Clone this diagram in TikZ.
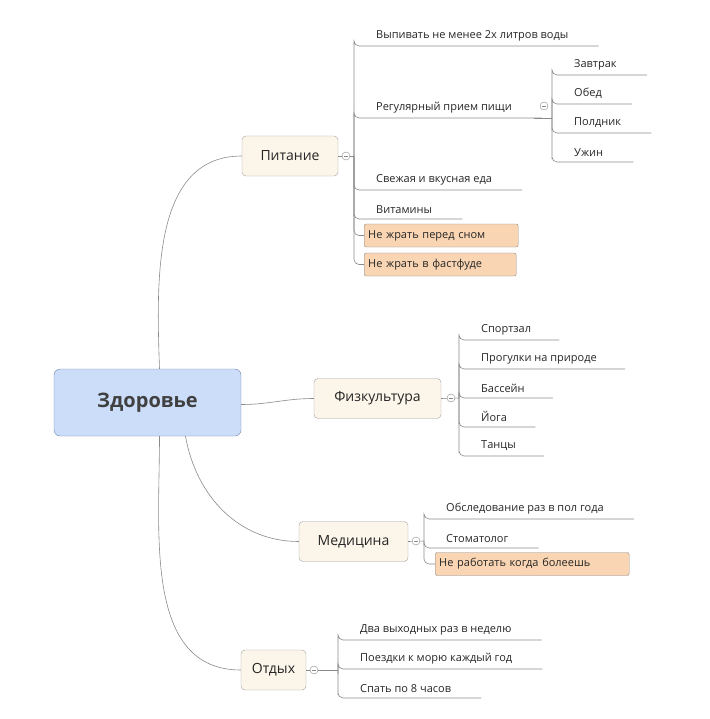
\documentclass[tikz,border=0pt]{standalone}
\usepackage{fontspec}
\setmainfont{Open Sans}
\usetikzlibrary{positioning}

\definecolor{rootfill}{HTML}{CCDDFA}
\definecolor{rootdraw}{HTML}{6E84A8}
\definecolor{topicfill}{HTML}{FCF5EA}
\definecolor{notefill}{HTML}{F9D5B3}
\definecolor{linegray}{HTML}{8A8A8A}

\tikzset{
  root/.style={rectangle, rounded corners=6pt, draw=rootdraw, fill=rootfill,
               minimum width=187pt, minimum height=67pt, font=\fontsize{20}{24}\selectfont\bfseries,
               text=black!75},
  topic/.style={rectangle, rounded corners=4pt, draw=linegray!80, fill=topicfill,
                minimum height=40pt, inner xsep=10pt, font=\fontsize{14}{16}\selectfont, text=black!85},
  leaf/.style={anchor=south west, inner xsep=22pt, inner ysep=5pt,
               font=\fontsize{11}{13}\selectfont, text=black!85},
  note/.style={anchor=west, rectangle, rounded corners=2pt, draw=linegray, fill=notefill,
               minimum height=23pt, inner xsep=4pt, font=\fontsize{11}{13}\selectfont, text=black!85},
  conn/.style={draw=linegray, line width=0.6pt},
  collapse/.style={circle, draw=linegray, fill=white, minimum size=8pt, inner sep=0pt,
                   path picture={\draw[linegray] ([xshift=-2pt]path picture bounding box.center)
                                 -- ([xshift=2pt]path picture bounding box.center);}}
}

\begin{document}
\begin{tikzpicture}[x=1pt, y=-1pt]
  \useasboundingbox (0,0) rectangle (709,719);

  \node[root] (zd) at (147.5,402.5) {Здоровье};

  \node[topic, minimum width=96pt]  (pit) at (290,156) {Питание};
  \node[topic, minimum width=127pt] (fiz) at (377.5,398.5) {Физкультура};
  \node[topic, minimum width=109pt] (med) at (353.5,541.5) {Медицина};
  \node[topic, minimum width=65pt]  (otd) at (273.5,670) {Отдых};

  \draw[conn] ([xshift=12pt]zd.north) to[out=92, in=180] (pit.west);
  \draw[conn] ([yshift=-2pt]zd.east) to[out=0, in=180] (fiz.west);
  \draw[conn] ([xshift=38pt]zd.south) to[out=-80, in=180] (med.west);
  \draw[conn] ([xshift=12pt]zd.south) to[out=-90, in=180] (otd.west);

  % Питание
  \coordinate (hp) at (354,156);
  \node[leaf] (p1) at (354,46)  {Выпивать не менее 2х литров воды};
  \node[leaf] (p2) at (354,118) {Регулярный прием пищи};
  \node[leaf] (p3) at (354,190) {Свежая и вкусная еда};
  \node[leaf] (p4) at (354,219) {Витамины};
  \node[note, text width=146pt] (p5) at (364,235.5) {Не жрать перед сном};
  \node[note, text width=144pt] (p6) at (364,264.5) {Не жрать в фастфуде};
  \foreach \n in {p1,p2,p3,p4}
    \draw[conn, rounded corners=5pt] (hp) |- (\n.south west) -- ([xshift=8pt]\n.south east);
  \foreach \n in {p5,p6}
    \draw[conn, rounded corners=5pt] (hp) |- (\n.west);
  \draw[conn] (pit.east) -- (hp);
  \node[collapse] at (346,156) {};

  % Регулярный прием пищи
  \coordinate (hr) at (552,118);
  \node[leaf] (r1) at (552,75)  {Завтрак};
  \node[leaf] (r2) at (552,104) {Обед};
  \node[leaf] (r3) at (552,133) {Полдник};
  \node[leaf] (r4) at (552,162) {Ужин};
  \foreach \n in {r1,r2,r3,r4}
    \draw[conn, rounded corners=5pt] (hr) |- (\n.south west) -- ([xshift=8pt]\n.south east);
  \draw[conn] (p2.south east) -- (hr);
  \node[collapse] at (544,106) {};

  % Физкультура
  \coordinate (hf) at (459,398);
  \node[leaf] (f1) at (459,340) {Спортзал};
  \node[leaf] (f2) at (459,369) {Прогулки на природе};
  \node[leaf] (f3) at (459,398) {Бассейн};
  \node[leaf] (f4) at (459,427) {Йога};
  \node[leaf] (f5) at (459,456) {Танцы};
  \foreach \n in {f1,f2,f3,f4,f5}
    \draw[conn, rounded corners=5pt] (hf) |- (\n.south west) -- ([xshift=6pt]\n.south east);
  \draw[conn] (fiz.east) -- (hf);
  \node[collapse] at (451,398) {};

  % Медицина
  \coordinate (hm) at (424,541);
  \node[leaf] (m1) at (424,519) {Обследование раз в пол года};
  \node[leaf] (m2) at (424,548) {Стоматолог};
  \node[note, text width=186pt] (m3) at (435,564) {Не работать когда болеешь};
  \foreach \n in {m1,m2}
    \draw[conn, rounded corners=5pt] (hm) |- (\n.south west) -- ([xshift=8pt]\n.south east);
  \draw[conn, rounded corners=5pt] (hm) |- (m3.west);
  \draw[conn] (med.east) -- (hm);
  \node[collapse] at (416,541) {};

  % Отдых
  \coordinate (ho) at (338,670);
  \node[leaf] (o1) at (338,640) {Два выходных раз в неделю};
  \node[leaf] (o2) at (338,669) {Поездки к морю каждый год};
  \node[leaf] (o3) at (338,698) {Спать по 8 часов};
  \foreach \n in {o1,o2,o3}
    \draw[conn, rounded corners=5pt] (ho) |- (\n.south west) -- ([xshift=8pt]\n.south east);
  \draw[conn] (otd.east) -- (ho);
  \node[collapse] at (314,670) {};
\end{tikzpicture}
\end{document}
